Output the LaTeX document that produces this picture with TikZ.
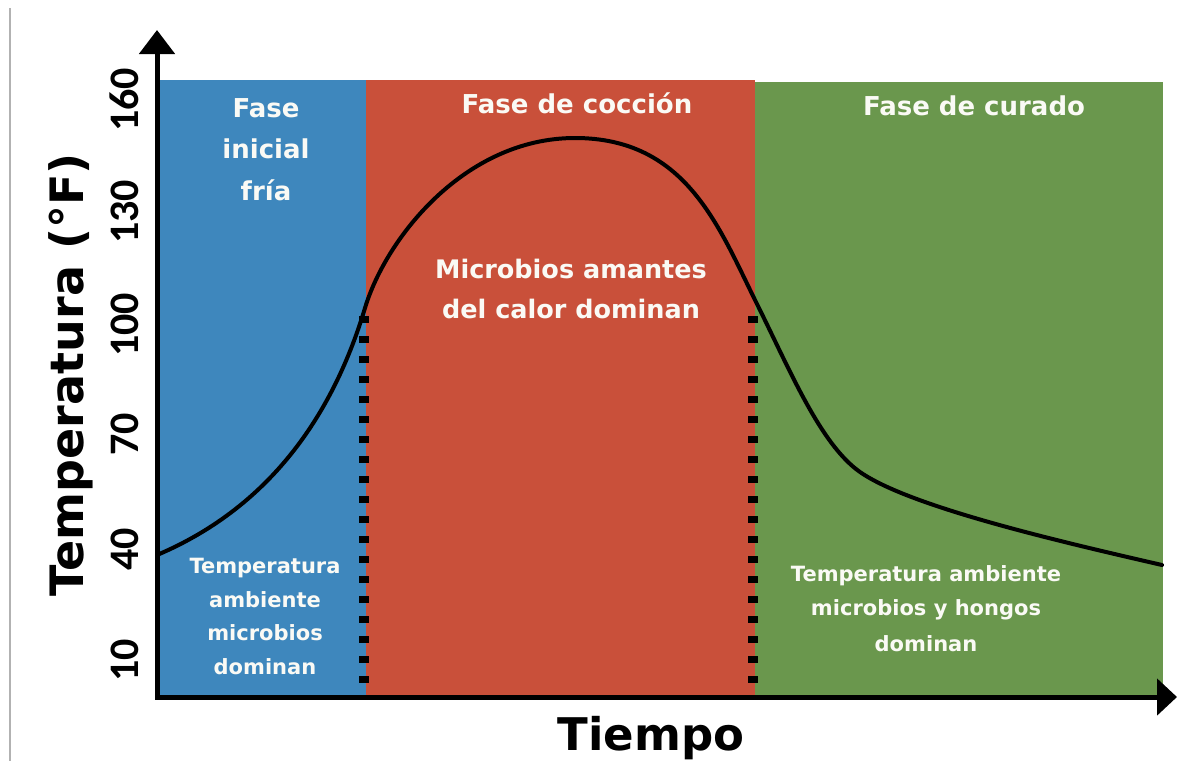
\documentclass[tikz,border=0pt]{standalone}
\usepackage{fontspec}
\usetikzlibrary{arrows.meta}
\newfontfamily\labfont{DejaVu Sans}[BoldFont={DejaVu Sans Bold}]
\newfontfamily\numfont{Carlito}
\definecolor{phblue}{RGB}{62,135,189}
\definecolor{phred}{RGB}{201,80,58}
\definecolor{phgreen}{RGB}{106,151,77}
\definecolor{txtw}{RGB}{250,250,245}
\tikzset{
  ttl/.style={anchor=base, inner sep=0pt, text=txtw, font={\labfont\bfseries\fontsize{26}{30}\selectfont}},
  sub/.style={anchor=base, inner sep=0pt, text=txtw, font={\labfont\bfseries\fontsize{21}{25}\selectfont}},
  mid/.style={anchor=base, inner sep=0pt, text=txtw, font={\labfont\bfseries\fontsize{25.5}{30}\selectfont}},
  tick/.style={anchor=base, inner sep=0pt, rotate=90, font={\numfont\bfseries\fontsize{42}{46}\selectfont}},
  axlabel/.style={anchor=base, inner sep=0pt, font={\labfont\bfseries\fontsize{46}{50}\selectfont}},
  axisline/.style={line width=5pt, line join=miter,
    {Triangle[width=35pt,length=24pt]}-{Triangle[width=36pt,length=20pt]}},
  dotline/.style={line width=10pt, dash pattern=on 7pt off 13pt},
  curveline/.style={line width=4pt, line cap=round, line join=round},
}
\begin{document}
\begin{tikzpicture}[x=1pt,y=-1pt]
\useasboundingbox[fill=white] (0,0) rectangle (1177,761);
% screenshot edge line
\draw[gray!60, line width=1.5pt] (10,8) -- (10,761);
% phase backgrounds
\fill[phblue] (157,80) rectangle (366,697);
\fill[phred] (366,80) rectangle (755,697);
\fill[phgreen] (755,82) rectangle (1163,697);
% dotted separators
\coordinate (d1top) at (364,316);
\coordinate (d1bot) at (364,694);
\coordinate (d2top) at (753,316);
\coordinate (d2bot) at (753,694);
\draw[dotline] (d1top) -- (d1bot);
\draw[dotline] (d2top) -- (d2bot);
% curve
\coordinate (c0) at (157,555);
\coordinate (c1) at (365,308);
\coordinate (c2) at (575,138);
\coordinate (c3) at (755,300);
\coordinate (c4) at (860,472);
\coordinate (c5) at (1162,565);
\draw[curveline] (c0) .. controls (275,505) and (335,408) .. (c1)
  .. controls (386,238) and (465,138) .. (c2)
  .. controls (685,138) and (718,225) .. (c3)
  .. controls (790,370) and (820,444) .. (c4)
  .. controls (910,507) and (1062,542) .. (c5);
% axes
\coordinate (ytip) at (157,30);
\coordinate (origin) at (157,697);
\coordinate (xtip) at (1177,697);
\draw[axisline] (ytip) -- (origin) -- (xtip);
% titles
\node[ttl] (b1) at (266,117) {Fase};
\node[ttl] (b2) at (266,158) {inicial};
\node[ttl] (b3) at (266,200) {fría};
\node[ttl] (r1) at (577,113) {Fase de cocción};
\node[ttl] (g1) at (974,115) {Fase de curado};
\node[mid] (m1) at (571,278) {Microbios amantes};
\node[mid] (m2) at (571,318) {del calor dominan};
\node[sub] (bs1) at (265,573) {Temperatura};
\node[sub] (bs2) at (265,607) {ambiente};
\node[sub] (bs3) at (265,640) {microbios};
\node[sub] (bs4) at (265,674) {dominan};
\node[sub] (gs1) at (926,581) {Temperatura ambiente};
\node[sub] (gs2) at (926,615) {microbios y hongos};
\node[sub] (gs3) at (926,651) {dominan};
% ticks
\node[tick] (t160) at (138,100) {160};
\node[tick] (t130) at (138,212) {130};
\node[tick] (t100) at (138,325) {100};
\node[tick] (t70) at (138,434) {70};
\node[tick] (t40) at (138,549) {40};
\node[tick] (t10) at (138,660) {10};
% axis labels
\node[axlabel, rotate=90] (ylab) at (83,375) {Temperatura (°F)};
\node[axlabel, font={\labfont\bfseries\fontsize{45}{50}\selectfont}] (xlab) at (651,750) {Tiempo};
\end{tikzpicture}
\end{document}
